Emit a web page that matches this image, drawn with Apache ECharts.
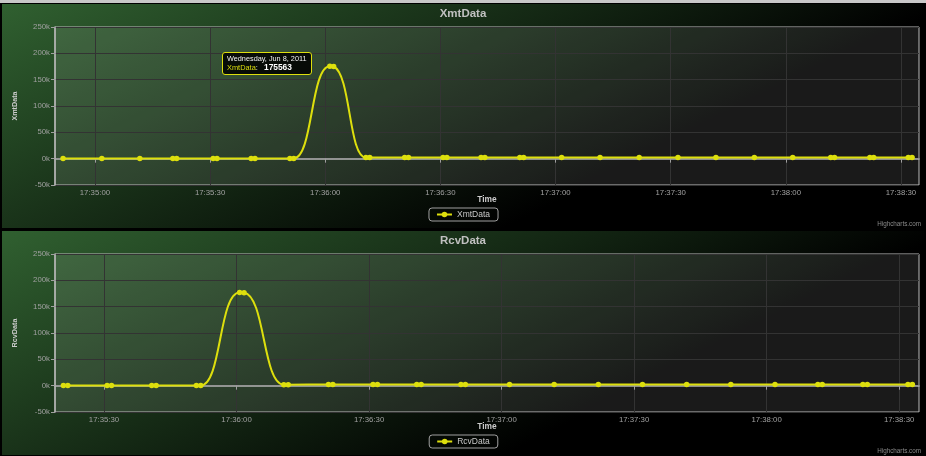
<!DOCTYPE html>
<html><head><meta charset="utf-8">
<script src="https://cdn.jsdelivr.net/npm/echarts@6/dist/echarts.min.js"></script>
<style>
html,body{margin:0;padding:0;background:#000;width:926px;height:456px;overflow:hidden;}
#strip{position:absolute;left:0;top:0;width:926px;height:3px;background:#c8c8c8;}
#c1{position:absolute;left:2px;top:4px;width:922px;height:224px;}
#c2{position:absolute;left:2px;top:231px;width:922px;height:224px;}
</style></head><body>
<div id="strip"></div><div id="c1"></div><div id="c2"></div>
<script>
// ---- data (2011-06-08, times of day) ----
const xmtTimes = ['17:34:51.7','17:35:01.8','17:35:11.7','17:35:20.3','17:35:21.3','17:35:30.8','17:35:31.8',
  '17:35:40.7','17:35:41.7','17:35:50.8','17:35:51.8','17:36:01.2','17:36:02.2','17:36:10.6','17:36:11.6',
  '17:36:20.7','17:36:21.7','17:36:30.7','17:36:31.7','17:36:40.6','17:36:41.6','17:36:50.7','17:36:51.7',
  '17:37:01.6','17:37:11.6','17:37:21.8','17:37:31.9','17:37:41.8','17:37:51.8','17:38:01.8',
  '17:38:11.7','17:38:12.7','17:38:21.9','17:38:22.9','17:38:31.9','17:38:32.9'];
const xmtValues = [412,388,405,396,420,401,398,
  415,392,408,436,175563,174980,1984,2050,
  2110,2086,2144,2102,2168,2130,2120,2176,
  2152,2190,2134,2178,2206,2160,2198,
  2214,2186,2230,2204,2242,2218];
const xmtTickLabels = ['17:35:00','17:35:30','17:36:00','17:36:30','17:37:00','17:37:30','17:38:00','17:38:30'];
const xmtRange = ['17:34:49.6','17:38:34.7'];

const rcvTimes = ['17:35:20.8','17:35:21.8','17:35:30.7','17:35:31.7','17:35:40.8','17:35:41.8','17:35:50.9','17:35:51.9',
  '17:36:00.7','17:36:01.7','17:36:10.7','17:36:11.7','17:36:20.8','17:36:21.8','17:36:30.9','17:36:31.9',
  '17:36:40.8','17:36:41.8','17:36:50.8','17:36:51.8','17:37:01.8','17:37:11.9','17:37:21.9','17:37:31.9',
  '17:37:41.9','17:37:51.9','17:38:01.9','17:38:11.6','17:38:12.6','17:38:21.8','17:38:22.8','17:38:32.0','17:38:33.0'];
const rcvValues = [380,402,395,410,388,404,399,415,
  176840,176620,1890,1960,2030,2010,2075,2050,
  2090,2068,2105,2120,2098,2136,2112,2150,
  2128,2164,2140,2172,2158,2185,2166,2190,2178];
const rcvTickLabels = ['17:35:30','17:36:00','17:36:30','17:37:00','17:37:30','17:38:00','17:38:30'];
const rcvRange = ['17:35:18.9','17:38:34.5'];

const yMin = -50000, yMax = 250000, yStep = 50000;
const seriesColor = '#DDDF0D';
const FONT = '"Liberation Sans", Arial, sans-serif';

function toMs(t){
  const p = t.split(':');
  return Date.UTC(2011,5,8,+p[0],+p[1],0) + Math.round(parseFloat(p[2])*1000);
}
function pad(n){return (n<10?'0':'')+n;}
function fmtTime(v){const d=new Date(v);return pad(d.getUTCHours())+':'+pad(d.getUTCMinutes())+':'+pad(d.getUTCSeconds());}
const WD=['Sunday','Monday','Tuesday','Wednesday','Thursday','Friday','Saturday'];
const MO=['Jan','Feb','Mar','Apr','May','Jun','Jul','Aug','Sep','Oct','Nov','Dec'];
function fmtDay(v){const d=new Date(v);return WD[d.getUTCDay()]+', '+MO[d.getUTCMonth()]+' '+d.getUTCDate()+', '+d.getUTCFullYear();}
const CSSFONT = "'Liberation Sans', Arial, sans-serif";

function makeOption(name, times, values, ticks, range){
  const ticksMs = ticks.map(toMs);
  return {
    animation:false,
    backgroundColor:{type:'linear',x:0,y:0,x2:190,y2:380,global:true,
      colorStops:[{offset:0,color:'rgb(48,96,48)'},{offset:1,color:'rgb(0,0,0)'}]},
    textStyle:{fontFamily:FONT},
    title:{text:name,left:'center',top:4,padding:0,
      textStyle:{color:'#C0C0C0',fontSize:11.5,fontWeight:'bold',fontFamily:FONT}},
    grid:{left:53,right:5,top:23,bottom:43,show:true,backgroundColor:'rgba(255,255,255,0.1)',
      borderColor:'#bdbdbd',borderWidth:1,outerBoundsMode:'none'},
    legend:{data:[name],left:'center',top:204,padding:[2,8,2,7],itemWidth:15,itemHeight:7,
      borderColor:'#a0a0a0',borderWidth:1,borderRadius:3,
      textStyle:{color:'#c8c8c8',fontSize:8.5,fontFamily:FONT}},
    tooltip:{trigger:'item',triggerOn:'none',alwaysShowContent:true,transitionDuration:0,
      backgroundColor:'rgba(0,0,0,0.85)',borderColor:seriesColor,borderWidth:1.5,padding:[2,4],
      extraCssText:'border-radius:3px;box-shadow:none;',
      position:function(){return [220,48];},
      formatter:function(p){
        return '<div style="font:7.3px '+CSSFONT+';color:#F0F0F0;line-height:8px;white-space:nowrap">'+fmtDay(p.value[0])+'</div>'+
          '<div style="font:7.4px '+CSSFONT+';line-height:9px;white-space:nowrap"><span style="color:'+seriesColor+'">'+p.seriesName+'</span>'+
          '<span style="color:#F0F0F0">:&nbsp;&nbsp;&nbsp;</span><b style="color:#fff;font-size:8.4px">'+p.value[1]+'</b></div>';
      }},
    xAxis:{type:'value',min:toMs(range[0]),max:toMs(range[1]),
      name:'Time',nameLocation:'middle',nameGap:11,nameMoveOverlap:false,
      nameTextStyle:{color:'#CCCCCC',fontWeight:'bold',fontSize:8.4,fontFamily:FONT},
      axisLine:{show:true,lineStyle:{color:'#b4b4b4',width:1.5}},
      axisTick:{show:true,length:4,lineStyle:{color:'#A0A0A0'},customValues:ticksMs},
      axisLabel:{color:'#A0A0A0',fontSize:7.8,margin:4,customValues:ticksMs,formatter:fmtTime,fontFamily:FONT},
      splitLine:{show:true,lineStyle:{color:'#333333',width:1}}},
    yAxis:{type:'value',min:yMin,max:yMax,interval:yStep,
      name:name,nameLocation:'middle',nameGap:36,nameMoveOverlap:false,
      nameTextStyle:{color:'#CCCCCC',fontWeight:'bold',fontSize:7.2,fontFamily:FONT},
      axisLine:{show:true,lineStyle:{color:'#b4b4b4',width:1.5}},
      axisTick:{show:true,length:4,lineStyle:{color:'#A0A0A0'}},
      axisLabel:{color:'#A0A0A0',fontSize:7.8,margin:5,fontFamily:FONT,formatter:function(v){return (v/1000)+'k';}},
      splitLine:{show:true,lineStyle:{color:'#333333',width:1}}},
    graphic:[{type:'text',right:3,bottom:1,style:{text:'Highcharts.com',fill:'#8a8a8a',font:'6.3px '+FONT}}],
    series:[{name:name,type:'line',smooth:true,showAllSymbol:true,symbol:'circle',symbolSize:5.5,
      data:times.map(function(t,i){return [toMs(t),values[i]];}),
      lineStyle:{color:seriesColor,width:2},itemStyle:{color:seriesColor},
      emphasis:{disabled:true}}]
  };
}

const c1 = echarts.init(document.getElementById('c1'),null,{renderer:'canvas'});
c1.setOption(makeOption('XmtData', xmtTimes, xmtValues, xmtTickLabels, xmtRange));
const c2 = echarts.init(document.getElementById('c2'),null,{renderer:'canvas'});
c2.setOption(makeOption('RcvData', rcvTimes, rcvValues, rcvTickLabels, rcvRange));
c1.dispatchAction({type:'showTip',seriesIndex:0,dataIndex:xmtValues.indexOf(Math.max.apply(null,xmtValues))});
</script>
</body></html>
